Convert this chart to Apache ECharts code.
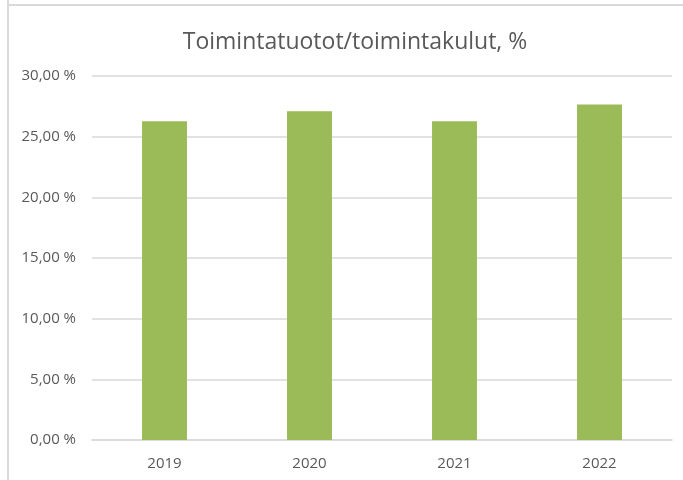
<!DOCTYPE html>
<html><head><meta charset="utf-8">
<script src="https://cdn.jsdelivr.net/npm/echarts@6/dist/echarts.min.js"></script>
<style>html,body{margin:0;padding:0;background:#fff}#c{width:683px;height:480px}</style>
</head><body><div id="c"></div>
<script>
const categories = ['2019', '2020', '2021', '2022'];
const values = [26.28, 27.10, 26.28, 27.65];
const yTicks = { min: 0, max: 30, interval: 5 };
const titleText = 'Toimintatuotot/toimintakulut, %';

const chart = echarts.init(document.getElementById('c'), null, { renderer: 'canvas' });
chart.setOption({
  animation: false,
  backgroundColor: '#fff',
  title: {
    text: titleText, left: 350, top: 26, textAlign: 'center',
    textStyle: { fontFamily: 'Open Sans', fontWeight: 'normal', fontSize: 23, color: '#595959' }
  },
  graphic: [
    { type: 'line', shape: { x1: 8, y1: 0, x2: 8, y2: 480 }, style: { stroke: '#d9d9d9', lineWidth: 2 } },
    { type: 'line', shape: { x1: 8, y1: 5, x2: 683, y2: 5 }, style: { stroke: '#d9d9d9', lineWidth: 2 } }
  ],
  grid: { left: 92, right: 11, top: 76, bottom: 40, containLabel: false },
  xAxis: {
    type: 'category', data: categories,
    axisLine: { lineStyle: { color: '#d9d9d9', width: 1.5 } },
    axisTick: { show: false },
    axisLabel: { color: '#595959', fontSize: 15, fontFamily: 'Open Sans', margin: 16 }
  },
  yAxis: {
    type: 'value', min: yTicks.min, max: yTicks.max, interval: yTicks.interval,
    axisLine: { show: false }, axisTick: { show: false },
    splitLine: { lineStyle: { color: '#d9d9d9', width: 1.5 } },
    axisLabel: {
      color: '#595959', fontSize: 15, fontFamily: 'Open Sans', margin: 16,
      formatter: v => v.toFixed(2).replace('.', ',') + ' %'
    }
  },
  series: [{
    type: 'bar', data: values, barWidth: '31%',
    itemStyle: { color: '#9bbb59' }
  }]
});
</script></body></html>
